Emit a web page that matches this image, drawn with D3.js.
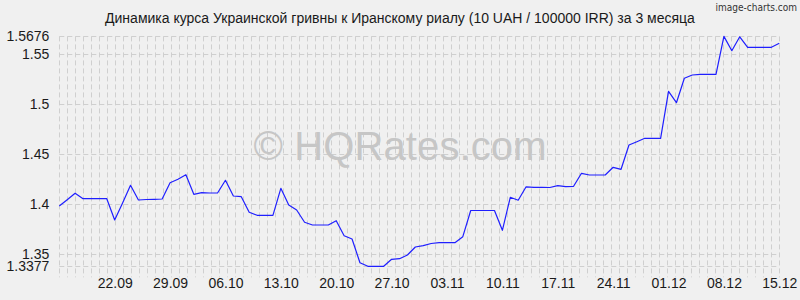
<!DOCTYPE html>
<html>
<head>
<meta charset="utf-8">
<script src="https://cdn.jsdelivr.net/npm/d3@7"></script>
<style>
  body { margin: 0; background: #f0f0f0; }
  svg { display: block; font-family: "Liberation Sans", Arial, sans-serif; }
</style>
</head>
<body>
<div id="chart"></div>
<script>
// data
const title = "Динамика курса Украинской гривны к Иранскому риалу (10 UAH / 100000 IRR) за 3 месяца";
const startDate = "15.09.2023";
const rates = [
  1.398, 1.4043, 1.4107, 1.4053, 1.4053, 1.4053, 1.4053, 1.384, 1.401, 1.4187,
  1.404, 1.4045, 1.4047, 1.405, 1.4213, 1.4247, 1.4293, 1.4097, 1.4113, 1.411,
  1.411, 1.4237, 1.408, 1.4073, 1.3917, 1.3887, 1.3887, 1.3887, 1.4157, 1.399,
  1.394, 1.3817, 1.379, 1.379, 1.379, 1.3833, 1.3683, 1.365, 1.3413, 1.3377,
  1.3377, 1.3377, 1.3447, 1.3453, 1.349, 1.357, 1.3583, 1.3605, 1.3613, 1.3613,
  1.3613, 1.3673, 1.3935, 1.3935, 1.3935, 1.3935, 1.3737, 1.4067, 1.4038, 1.4172,
  1.4167, 1.4167, 1.4165, 1.4183, 1.4173, 1.4177, 1.4307, 1.429, 1.429, 1.429,
  1.4367, 1.4347, 1.459, 1.4623, 1.4657, 1.4657, 1.4657, 1.5127, 1.5013, 1.5257,
  1.529, 1.5297, 1.5297, 1.5297, 1.5676, 1.5533, 1.5672, 1.5567, 1.5567, 1.5567,
  1.5567, 1.5607
];
const xTickLabels = ["22.09", "29.09", "06.10", "13.10", "20.10", "27.10", "03.11",
  "10.11", "17.11", "24.11", "01.12", "08.12", "15.12"];
const yTickValues = [1.5676, 1.55, 1.5, 1.45, 1.4, 1.35, 1.3377];

const width = 800;
const height = 300;
const plot = { left: 59.3, right: 779.3, top: 36.4, bottom: 266.3 };
const gridCols = 90;

const parse = d3.timeParse("%d.%m.%Y");
const start = parse(startDate);
const dates = rates.map((d, i) => d3.timeDay.offset(start, i));
const data = rates.map((v, i) => ({ date: dates[i], value: v }));

const svg = d3.select("#chart")
    .append("svg")
    .attr("width", width)
    .attr("height", height);

svg.append("rect")
    .attr("width", width)
    .attr("height", height)
    .attr("fill", "#f0f0f0");

const x = d3.scaleTime()
    .domain([dates[0], dates[dates.length - 1]])
    .range([plot.left, plot.right]);

const y = d3.scaleLinear()
    .domain([d3.min(yTickValues), d3.max(yTickValues)])
    .range([plot.bottom, plot.top]);

// grid
const grid = svg.append("g")
    .attr("stroke", "#cfcfcf")
    .attr("stroke-width", 1)
    .attr("stroke-dasharray", "5,3");

const colStep = (plot.right - plot.left) / gridCols;
grid.selectAll("line.v")
    .data(d3.range(gridCols + 1))
    .enter().append("line")
    .attr("class", "v")
    .attr("x1", d => Math.round(plot.left + d * colStep) + 0.5)
    .attr("x2", d => Math.round(plot.left + d * colStep) + 0.5)
    .attr("y1", plot.top)
    .attr("y2", plot.bottom + 11);

grid.selectAll("line.h")
    .data(yTickValues)
    .enter().append("line")
    .attr("class", "h")
    .attr("x1", plot.left)
    .attr("x2", plot.right)
    .attr("y1", d => Math.round(y(d)) + 0.5)
    .attr("y2", d => Math.round(y(d)) + 0.5);

// watermark
svg.append("text")
    .attr("x", 400)
    .attr("y", 160)
    .attr("text-anchor", "middle")
    .attr("font-size", 40)
    .attr("fill", "#c6c6c6")
    .attr("textLength", 293)
    .text("© HQRates.com");

// y axis labels
const yAxis = d3.axisLeft(y)
    .tickValues(yTickValues)
    .tickFormat(d => String(d))
    .tickSize(0)
    .tickPadding(10);

svg.append("g")
    .attr("transform", `translate(${plot.left},0)`)
    .call(yAxis)
    .call(g => g.select(".domain").remove())
    .call(g => g.selectAll("text")
        .attr("font-size", 14)
        .attr("font-family", "Liberation Sans, Arial, sans-serif")
        .attr("fill", "#1a1a1a"));

// x axis labels
const xAxis = d3.axisBottom(x)
    .tickValues(xTickLabels.map(s => parse(s + ".2023")))
    .tickFormat(d3.timeFormat("%d.%m"))
    .tickSize(0)
    .tickPadding(12);

svg.append("g")
    .attr("transform", `translate(0,${plot.bottom})`)
    .call(xAxis)
    .call(g => g.select(".domain").remove())
    .call(g => g.selectAll("text")
        .attr("font-size", 14)
        .attr("font-family", "Liberation Sans, Arial, sans-serif")
        .attr("fill", "#1a1a1a"));

// line
const line = d3.line()
    .x(d => x(d.date))
    .y(d => y(d.value));

svg.append("path")
    .datum(data)
    .attr("fill", "none")
    .attr("stroke", "#1f1fff")
    .attr("stroke-width", 1.2)
    .attr("stroke-linejoin", "round")
    .attr("d", line);

// title
svg.append("text")
    .attr("x", 400)
    .attr("y", 23)
    .attr("text-anchor", "middle")
    .attr("font-size", 14)
    .attr("fill", "#1a1a1a")
    .text(title);

svg.append("text")
    .attr("x", 797)
    .attr("y", 11)
    .attr("text-anchor", "end")
    .attr("font-size", 10)
    .attr("font-family", "DejaVu Sans Condensed, DejaVu Sans, sans-serif")
    .attr("fill", "#333")
    .text("image-charts.com");
</script>
</body>
</html>
